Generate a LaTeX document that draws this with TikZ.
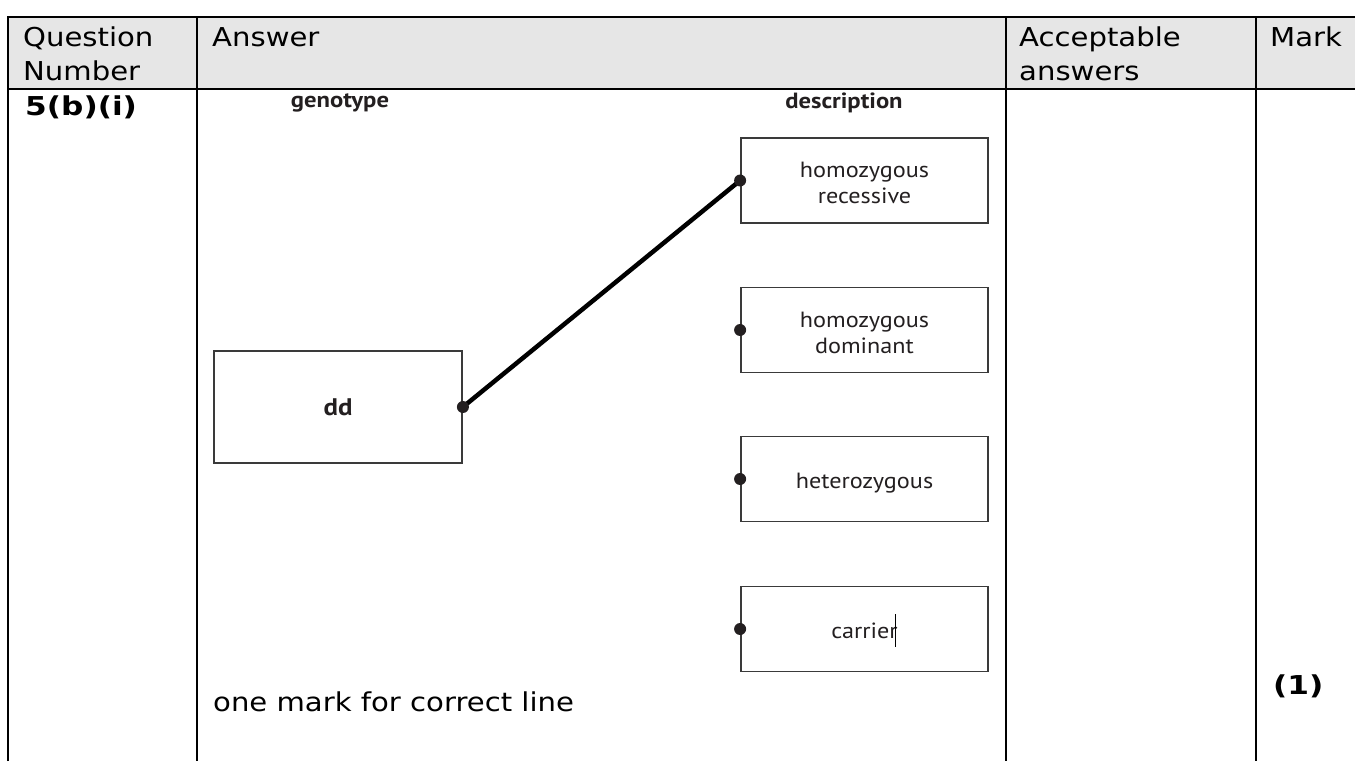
\documentclass[tikz,border=0pt]{standalone}
\usepackage{fontspec}
\newfontfamily\hdrfont[FakeStretch=1.12]{DejaVu Sans}
\newfontfamily\hdrboldfont[FakeStretch=1.2]{DejaVu Sans Bold}
\newfontfamily\dgmfont[FakeStretch=1.1]{PT Sans}
\newfontfamily\dgmheadfont[FakeStretch=1.12]{PT Sans Bold}
\definecolor{hdrgray}{HTML}{E6E6E6}
\definecolor{boxline}{HTML}{3A3A3A}
\definecolor{ink}{HTML}{231F20}
\newcommand{\lowered}[2]{\raisebox{-#1}[\height][\depth]{#2}}
\newcommand{\twolines}[2]{\lowered{5pt}{\begin{tabular}{@{}c@{}}#1\\#2\end{tabular}}}
\tikzset{
  tbl/.style={line width=2.5pt, black},
  hdr/.style={font=\hdrfont\fontsize{26}{34}\selectfont, anchor=base west, inner sep=0pt},
  hdrbold/.style={font=\hdrboldfont\fontsize{26}{34}\selectfont, anchor=base west, inner sep=0pt},
  colhead/.style={font=\dgmheadfont\fontsize{22}{24}\selectfont, text=ink, inner sep=0pt},
  choice/.style={draw=boxline, line width=1.8pt, minimum width=247pt, minimum height=85pt,
    inner sep=0pt, align=center, text=ink, font=\dgmfont\fontsize{22}{26}\selectfont},
  dot/.style={fill=ink, draw=none, circle, minimum size=12pt, inner sep=0pt},
  link/.style={line width=4.5pt, black}
}
\begin{document}
\begin{tikzpicture}[x=1pt,y=-1pt]
\useasboundingbox (0,0) rectangle (1355,761);
% table
\fill[hdrgray] (8,17) rectangle (1355,89);
\draw[tbl] (8,761) -- (8,17) -- (1355,17);
\draw[tbl] (8,89) -- (1355,89);
\draw[tbl] (197,17) -- (197,761);
\draw[tbl] (1006,17) -- (1006,761);
\draw[tbl] (1256,17) -- (1256,761);
% header texts
\node[hdr] (hq) at (23,46) {Question};
\node[hdr] (hn) at (23,80) {Number};
\node[hdr] (ha) at (212,46) {Answer};
\node[hdr] (hacc) at (1019,46) {Acceptable};
\node[hdr] (hans) at (1019,80) {answers};
\node[hdr] (hm) at (1270,46) {Mark};
\node[hdrbold] (qnum) at (25,115) {5(b)(i)};
% diagram
\node[colhead] (gen) at (340,103) {genotype};
\node[colhead] (desc) at (844,103) {description};
\node[choice] (rec) at (864.5,180.5) {\twolines{homozygous}{recessive}};
\node[choice] (dom) at (864.5,330) {\twolines{homozygous}{dominant}};
\node[choice] (het) at (864.5,479) {\lowered{4pt}{heterozygous}};
\node[choice] (car) at (864.5,629) {\lowered{2pt}{carrier}};
\node[choice, minimum width=248pt, minimum height=112pt, font=\dgmheadfont\fontsize{24}{26}\selectfont] (dd) at (338,407) {dd};
\draw[link] (dd.east) -- (rec.west);
\node[dot] (d0) at (dd.east) {};
\node[dot] (d1) at (rec.west) {};
\node[dot] (d2) at (dom.west) {};
\node[dot] (d3) at (het.west) {};
\node[dot] (d4) at (car.west) {};
\coordinate (curtop) at (895,614);
\coordinate (curbot) at (895,647);
\draw[line width=1pt, black] (curtop) -- (curbot);
% footer
\node[hdr] (note) at (213,711) {one mark for correct line};
\node[hdrbold] (mk) at (1273,694) {(1)};
\end{tikzpicture}
\end{document}
